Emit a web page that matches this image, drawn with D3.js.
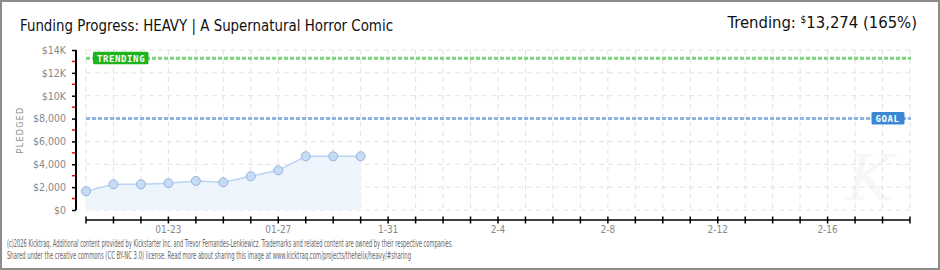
<!DOCTYPE html>
<html><head><meta charset="utf-8">
<script src="https://cdn.jsdelivr.net/npm/d3@7"></script>
<style>
html,body{margin:0;padding:0;background:#fff;}
svg{display:block;}
</style></head>
<body>
<svg id="chart" width="940" height="270"></svg>
<script>
// ---- data ----
const dates = ["2026-01-20","2026-01-21","2026-01-22","2026-01-23","2026-01-24","2026-01-25","2026-01-26","2026-01-27","2026-01-28","2026-01-29","2026-01-30"];
const pledged = [1640, 2250, 2250, 2340, 2540, 2420, 2950, 3470, 4700, 4700, 4700];
const goal = 8000;
const trending = 13274;
const domainDates = ["2026-01-20","2026-02-19"];
const xTickDates = ["2026-01-23","2026-01-27","2026-01-31","2026-02-04","2026-02-08","2026-02-12","2026-02-16"];
const xTickLabels = ["01-23","01-27","1-31","2-4","2-8","2-12","2-16"];
const yTicks = [0,2000,4000,6000,8000,10000,12000,14000];
const yTickLabels = ["$0","$2,000","$4,000","$6,000","$8,000","$10K","$12K","$14K"];
const yMinorTicks = [1000,3000,5000,7000,9000,11000,13000];
const titleText = "Funding Progress: HEAVY | A Supernatural Horror Comic";
const footer = ["(c)2026 Kicktraq. Additional content provided by Kickstarter Inc. and Trevor Fernandes-Lenkiewicz. Trademarks and related content are owned by their respective companies.",
"Shared under the creative commons (CC BY-NC 3.0) license. Read more about sharing this image at www.kicktraq.com/projects/thehelix/heavy/#sharing"];

const parse = d3.utcParse("%Y-%m-%d");
const svg = d3.select("#chart");
const W = 940, H = 270;
const FONT = "'DejaVu Sans Condensed','DejaVu Sans',sans-serif";

const x = d3.scaleUtc().domain(domainDates.map(parse)).range([86, 910]);
const y = d3.scaleLinear().domain([0, 14000]).range([210, 50]);

// border
svg.append("rect").attr("x",1).attr("y",1).attr("width",W-2).attr("height",H-2)
  .attr("fill","#fff").attr("stroke","#8c8c8c").attr("stroke-width",2);

// watermark K
svg.append("text").attr("x",870).attr("y",200).attr("text-anchor","middle")
  .attr("font-family","'DejaVu Serif',serif").attr("font-style","italic").attr("font-size",64)
  .attr("fill","#f7f7f7").text("K");

// grid
const days = d3.utcDay.range(parse(domainDates[0]), d3.utcDay.offset(parse(domainDates[1]),1));
const grid = svg.append("g");
grid.selectAll("line.v").data(days).join("line")
  .attr("x1",d=>x(d)).attr("x2",d=>x(d)).attr("y1",y(14000)).attr("y2",y(0))
  .attr("stroke","#e2e2e2").attr("stroke-dasharray","5,4");
grid.selectAll("line.h").data(yTicks).join("line")
  .attr("x1",x.range()[0]).attr("x2",x.range()[1]).attr("y1",d=>y(d)).attr("y2",d=>y(d))
  .attr("stroke","#e2e2e2").attr("stroke-dasharray","5,4");

// area + line
const pts = dates.map((d,i)=>({d:parse(d), v:pledged[i]}));
svg.append("path").datum(pts)
  .attr("d", d3.area().x(p=>x(p.d)).y0(y(0)).y1(p=>y(p.v)))
  .attr("fill","#edf4fc");
svg.append("path").datum(pts)
  .attr("d", d3.line().x(p=>x(p.d)).y(p=>y(p.v)))
  .attr("fill","none").attr("stroke","#bad5f1").attr("stroke-width",1.5);

// reference lines
function refLine(val, color){
  svg.append("line").attr("x1",x.range()[0]).attr("x2",x.range()[1]+1)
    .attr("y1",y(val)).attr("y2",y(val)).attr("stroke",color).attr("stroke-width",3)
    .attr("stroke-dasharray","4,2");
}
refLine(trending, "#7fd07f");
refLine(goal, "#90b5e2");

// labels on reference lines
function tag(xl, w, val, color, text){
  const g = svg.append("g");
  g.append("rect").attr("x",xl).attr("y",y(val)-6.5).attr("width",w).attr("height",12.5)
    .attr("rx",1.5).attr("fill",color);
  g.append("text").attr("x",xl+4).attr("y",y(val)+3.6)
    .attr("font-family","'DejaVu Sans Mono',monospace").attr("font-weight","bold")
    .attr("font-size",9).attr("fill","#fff").attr("letter-spacing",0.6).text(text);
}
tag(93, 55.5, trending, "#1cb31c", "TRENDING");
tag(871.5, 33, goal, "#3a88d4", "GOAL");

// points
svg.selectAll("circle.pt").data(pts).join("circle")
  .attr("cx",p=>x(p.d)).attr("cy",p=>y(p.v)).attr("r",4.5)
  .attr("fill","#c6dcf6").attr("stroke","#97b4da").attr("stroke-width",1);

// y axis
const yAxis = d3.axisLeft(y).tickValues(yTicks).tickSize(4).tickPadding(6)
  .tickFormat((d,i)=>yTickLabels[i]);
const ya = svg.append("g").attr("transform","translate(76,0)").call(yAxis);
ya.select(".domain").attr("stroke","#000").attr("stroke-width",2).attr("d","M0,"+y(14000)+"V"+y(0));
ya.selectAll(".tick line").attr("stroke","#000").attr("stroke-width",1.5);
ya.selectAll(".tick text").attr("font-family",FONT).attr("font-size",10.5).attr("fill","#888");
svg.append("g").selectAll("line").data(yMinorTicks).join("line")
  .attr("x1",72).attr("x2",75).attr("y1",d=>y(d)).attr("y2",d=>y(d))
  .attr("stroke","#e31010").attr("stroke-width",1.5);

// x axis
const xa = svg.append("g").attr("transform","translate(0,220)");
xa.append("line").attr("x1",x.range()[0]).attr("x2",x.range()[1]).attr("y1",0).attr("y2",0)
  .attr("stroke","#000").attr("stroke-width",1.5);
xa.selectAll("line.t").data(days).join("line")
  .attr("x1",d=>x(d)).attr("x2",d=>x(d)).attr("y1",-3.5).attr("y2",3.5)
  .attr("stroke","#000").attr("stroke-width",1.5);
xa.selectAll("text").data(xTickDates).join("text")
  .attr("x",d=>x(parse(d))).attr("y",13).attr("text-anchor","middle")
  .attr("font-family",FONT).attr("font-size",10).attr("fill","#888")
  .text((d,i)=>xTickLabels[i]);

// axis title
svg.append("text").attr("transform","translate(23,130) rotate(-90)").attr("text-anchor","middle")
  .attr("font-family",FONT).attr("font-size",9).attr("letter-spacing",1.2).attr("fill","#888").text("PLEDGED");

// title
svg.append("text").attr("x",20).attr("y",31).attr("font-family",FONT).attr("font-size",16.5)
  .attr("fill","#111").attr("textLength",373).attr("lengthAdjust","spacingAndGlyphs").text(titleText);

// trending header
const th = svg.append("text").attr("x",917).attr("y",28).attr("text-anchor","end")
  .attr("font-family",FONT).attr("font-size",16.5).attr("fill","#111");
th.append("tspan").text("Trending:  ");
th.append("tspan").attr("font-size",10).attr("dy",-5).text("$");
th.append("tspan").attr("dy",5).text(d3.format(",")(trending) + " (" + Math.floor(trending/goal*100) + "%)");

// footer
svg.selectAll("text.f").data(footer).join("text")
  .attr("x",7).attr("y",(d,i)=>247+i*11.5)
  .attr("font-family",FONT).attr("font-size",11).attr("fill","#666")
  .attr("textLength",(d,i)=>i===0?446:404).attr("lengthAdjust","spacingAndGlyphs")
  .text(d=>d);
</script>
</body></html>
